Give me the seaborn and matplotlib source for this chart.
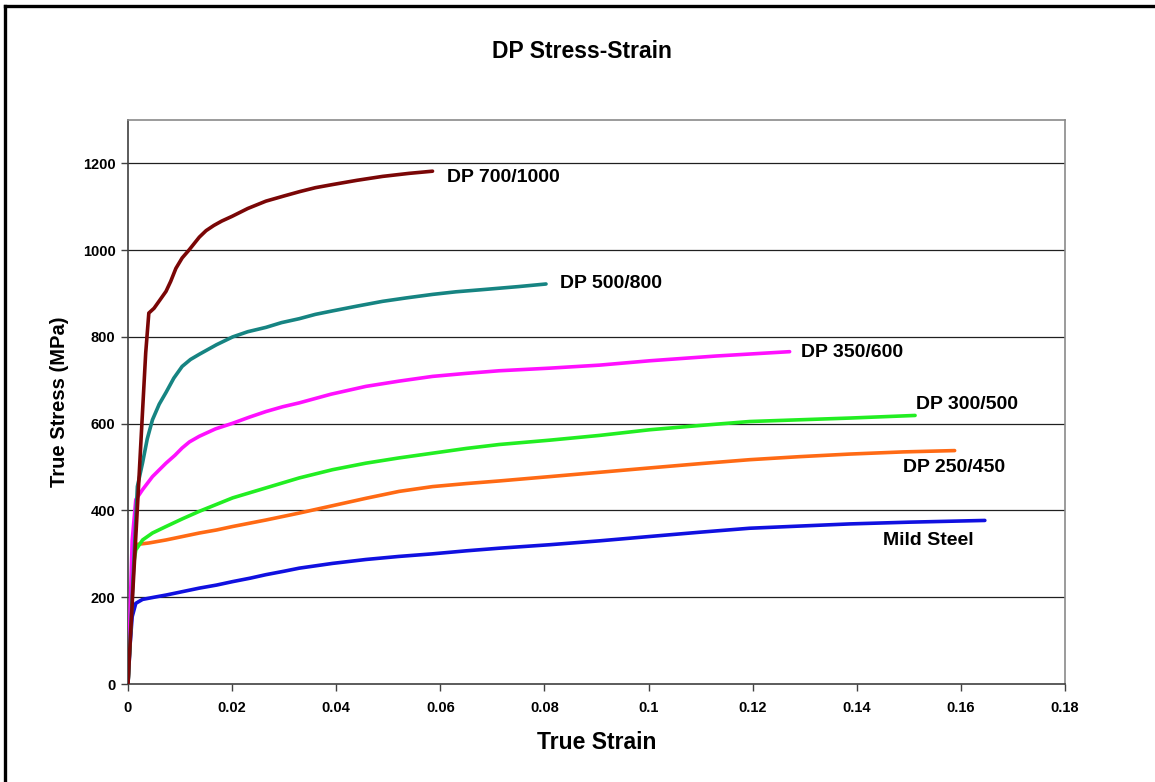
import numpy as np
import pandas as pd
import matplotlib
matplotlib.use("Agg")
import matplotlib.pyplot as plt
from matplotlib.lines import Line2D
import seaborn as sns

# ---- data: true stress (MPa) vs true strain ----
grades = ["Mild Steel", "DP 250/450", "DP 300/500", "DP 350/600", "DP 500/800", "DP 700/1000"]

strain_mild = [0, 0.0004, 0.0008, 0.0015, 0.0028, 0.0050, 0.0073, 0.0105, 0.0137, 0.0170, 0.0201,
               0.0235, 0.0265, 0.0300, 0.0329, 0.0393, 0.0457, 0.0520, 0.0585, 0.0650, 0.0713,
               0.0810, 0.0906, 0.1002, 0.1100, 0.1194, 0.1290, 0.1387, 0.1500, 0.1646]
stress_mild = [0, 90, 155, 186, 195, 200, 205, 213, 221, 228, 236,
               244, 252, 260, 267, 278, 287, 294, 300, 307, 313,
               321, 330, 340, 350, 359, 364, 369, 373, 377]

strain_dp250 = [0, 0.0007, 0.0012, 0.0040, 0.0073, 0.0105, 0.0137, 0.0170, 0.0201, 0.0265,
                0.0329, 0.0393, 0.0457, 0.0521, 0.0585, 0.0650, 0.0713, 0.0810, 0.0906, 0.1002,
                0.1100, 0.1194, 0.1290, 0.1387, 0.1490, 0.1588]
stress_dp250 = [0, 190, 321, 325, 332, 340, 348, 355, 363, 378,
                394, 411, 428, 444, 455, 462, 468, 478, 488, 498,
                508, 517, 524, 530, 535, 538]

strain_dp300 = [0, 0.0006, 0.0010, 0.0015, 0.0028, 0.0047, 0.0073, 0.0105, 0.0137, 0.0170,
                0.0201, 0.0265, 0.0329, 0.0393, 0.0457, 0.0520, 0.0585, 0.0650, 0.0713, 0.0810,
                0.0906, 0.1002, 0.1100, 0.1194, 0.1290, 0.1387, 0.1512]
stress_dp300 = [0, 160, 270, 309, 332, 348, 363, 381, 398, 414,
                429, 452, 475, 494, 509, 521, 532, 543, 552, 562,
                573, 586, 596, 605, 609, 613, 619]

strain_dp350 = [0, 0.0008, 0.0015, 0.0028, 0.0047, 0.0073, 0.0090, 0.0104, 0.0118, 0.0137,
                0.0168, 0.0201, 0.0233, 0.0265, 0.0297, 0.0329, 0.0390, 0.0457, 0.0520, 0.0585,
                0.0650, 0.0713, 0.0810, 0.0906, 0.1002, 0.1130, 0.1271]
stress_dp350 = [0, 330, 425, 448, 478, 509, 527, 544, 558, 571,
                588, 601, 615, 628, 639, 648, 668, 686, 698, 709,
                716, 722, 728, 735, 745, 756, 766]

strain_dp500 = [0, 0.0010, 0.0018, 0.0028, 0.0037, 0.0047, 0.0060, 0.0073, 0.0088, 0.0104,
                0.0120, 0.0137, 0.0170, 0.0201, 0.0230, 0.0265, 0.0295, 0.0329, 0.0360, 0.0393,
                0.0440, 0.0489, 0.0535, 0.0585, 0.0630, 0.0681, 0.0750, 0.0803]
stress_dp500 = [0, 250, 455, 510, 565, 609, 645, 672, 705, 732,
                748, 760, 782, 800, 812, 822, 833, 842, 852, 860,
                871, 882, 890, 898, 904, 909, 916, 922]

strain_dp700 = [0, 0.0010, 0.0020, 0.0028, 0.0034, 0.0040, 0.0050, 0.0063, 0.0073, 0.0082,
                0.0092, 0.0104, 0.0117, 0.0137, 0.0150, 0.0165, 0.0180, 0.0200, 0.0230, 0.0265,
                0.0300, 0.0330, 0.0360, 0.0392, 0.0440, 0.0489, 0.0540, 0.0585]
stress_dp700 = [0, 230, 450, 630, 763, 855, 866, 888, 905, 928,
                958, 982, 1000, 1030, 1045, 1057, 1067, 1078, 1096, 1113,
                1125, 1135, 1144, 1151, 1161, 1170, 1177, 1182]

x_ticks = [0, 0.02, 0.04, 0.06, 0.08, 0.10, 0.12, 0.14, 0.16, 0.18]
x_tick_labels = ["0", "0.02", "0.04", "0.06", "0.08", "0.1", "0.12", "0.14", "0.16", "0.18"]
y_ticks = [0, 200, 400, 600, 800, 1000, 1200]
y_tick_labels = ["0", "200", "400", "600", "800", "1000", "1200"]

series = {
    "Mild Steel": (strain_mild, stress_mild),
    "DP 250/450": (strain_dp250, stress_dp250),
    "DP 300/500": (strain_dp300, stress_dp300),
    "DP 350/600": (strain_dp350, stress_dp350),
    "DP 500/800": (strain_dp500, stress_dp500),
    "DP 700/1000": (strain_dp700, stress_dp700),
}

frames = []
for name in grades:
    s, t = series[name]
    frames.append(pd.DataFrame({"strain": s, "stress": t, "grade": name}))
df = pd.concat(frames, ignore_index=True)

# ---- styling ----
colors = {
    "Mild Steel": "#1010e0",
    "DP 250/450": "#ff6a14",
    "DP 300/500": "#22ee22",
    "DP 350/600": "#ff10ff",
    "DP 500/800": "#168482",
    "DP 700/1000": "#7a0606",
}
# where each curve's name is written (data coordinates, left edge / vertical centre)
label_pos = {
    "DP 700/1000": (0.0612, 1168),
    "DP 500/800": (0.0829, 923),
    "DP 350/600": (0.1292, 765),
    "DP 300/500": (0.1513, 645),
    "DP 250/450": (0.1489, 498),
    "Mild Steel": (0.1451, 331),
}

sns.set_style("white")
plt.rcParams["font.family"] = ["Liberation Sans", "DejaVu Sans"]
plt.rcParams["font.weight"] = "bold"
plt.rcParams["text.color"] = "black"
plt.rcParams["axes.labelcolor"] = "black"

W, H = 1155, 782
fig = plt.figure(figsize=(W / 100, H / 100), dpi=100)
fig.patch.set_facecolor("white")
ax = fig.add_axes([128 / W, 1 - 684 / H, (1065 - 128) / W, (684 - 120) / H])

sns.lineplot(data=df, x="strain", y="stress", hue="grade", hue_order=grades,
             palette=colors, estimator=None, sort=False, linewidth=2.6,
             legend=False, ax=ax, zorder=3)
for ln in ax.get_lines():
    ln.set_solid_joinstyle("round")
    ln.set_solid_capstyle("round")

ax.set_xlim(0, 0.18)
ax.set_ylim(0, 1300)
ax.set_xticks(x_ticks)
ax.set_xticklabels(x_tick_labels)
ax.set_yticks(y_ticks)
ax.set_yticklabels(y_tick_labels)

for y in y_ticks[1:]:
    ax.axhline(y, color="#202020", linewidth=0.9, zorder=1)

for side in ["top", "right"]:
    ax.spines[side].set_color("#8a8a8a")
    ax.spines[side].set_linewidth(1.2)
for side in ["left", "bottom"]:
    ax.spines[side].set_color("#404040")
    ax.spines[side].set_linewidth(1.2)

ax.tick_params(axis="both", which="major", direction="out", length=5, width=1,
               color="#404040", labelsize=10.5, labelcolor="black")
ax.tick_params(axis="x", pad=7)
ax.tick_params(axis="y", pad=4)
ax.tick_params(bottom=True, left=True)
for lab in ax.get_xticklabels() + ax.get_yticklabels():
    lab.set_fontweight("bold")

ax.set_xlabel("True Strain", fontsize=16.5, fontweight="bold", labelpad=12, color="black")
ax.set_ylabel("True Stress (MPa)", fontsize=14.5, fontweight="bold", labelpad=10, color="black")

for name, (lx, ly) in label_pos.items():
    ax.text(lx, ly, name, fontsize=14, fontweight="bold", ha="left", va="center",
            color="black", zorder=4)

fig.text(582 / W, 1 - 52 / H, "DP Stress-Strain", fontsize=16.5, fontweight="bold",
         ha="center", va="center", color="black")

# outer frame (left and top edges)
fig.add_artist(Line2D([5 / W, 5 / W], [0, 1 - 6 / H], transform=fig.transFigure,
                      color="black", linewidth=2.4, solid_capstyle="projecting"))
fig.add_artist(Line2D([5 / W, 1], [1 - 6 / H, 1 - 6 / H], transform=fig.transFigure,
                      color="black", linewidth=2.4, solid_capstyle="projecting"))

fig.savefig("out.png", dpi=100, facecolor="white")
